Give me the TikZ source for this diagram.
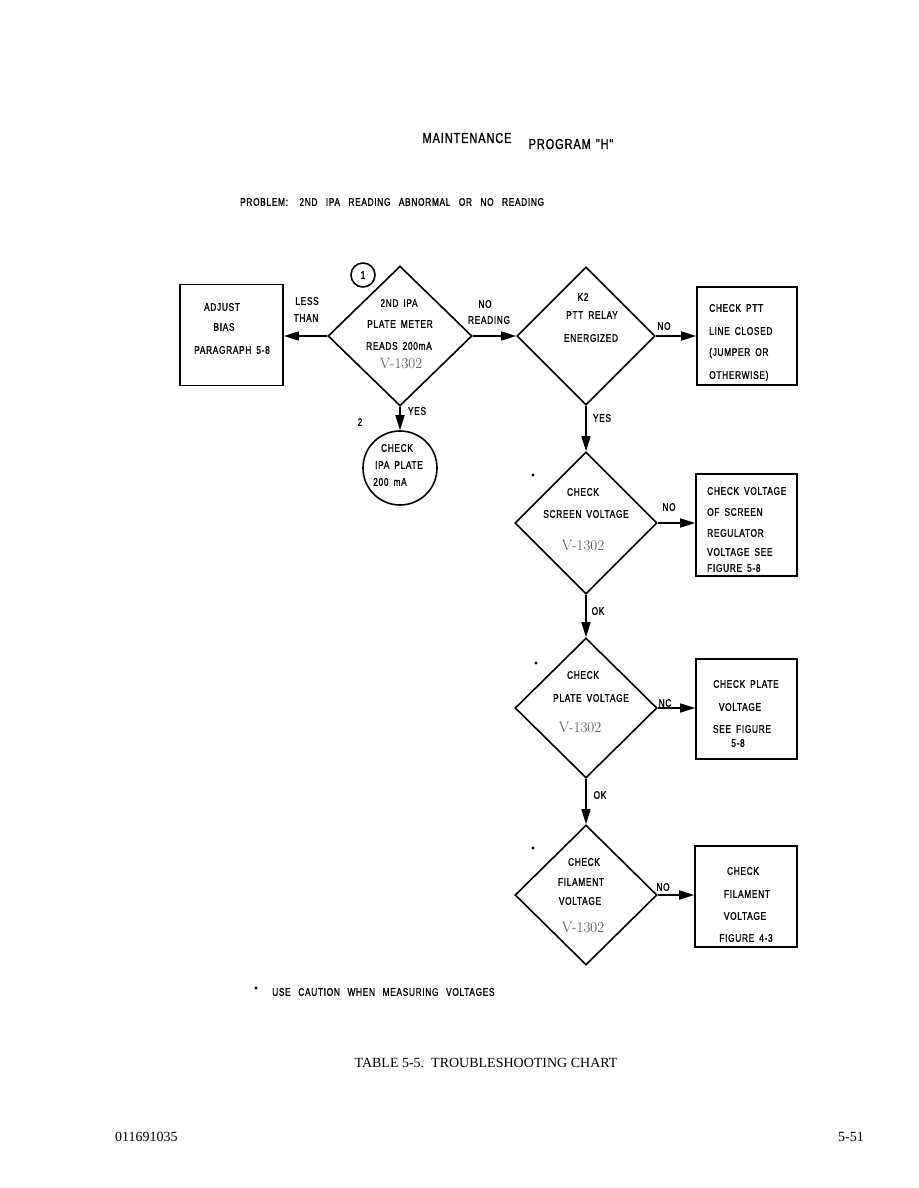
\documentclass[tikz,border=0pt]{standalone}
\usepackage{fontspec}
\usetikzlibrary{shapes.geometric,arrows.meta}
\newfontfamily\lab{Liberation Sans}[FakeStretch=0.76,LetterSpace=6,FakeBold=1.2]
\newfontfamily\capserif{Liberation Serif}
\newcommand\widewords{\spaceskip=8.4pt\relax}
\newcommand\labspace{\spaceskip=5pt\relax}
\begin{document}
\begin{tikzpicture}[x=1pt,y=-1pt,
  lw/.style={line width=1.6pt},
  dia/.style={draw,lw,shape=diamond,inner sep=0pt,minimum width=142pt,minimum height=140pt},
  box/.style={draw,lw,rectangle,inner sep=0pt},
  circ/.style={draw,lw,circle,inner sep=0pt},
  arr/.style={lw,-{Triangle[length=15pt,width=9pt]}},
  lab/.style={font=\lab\fontsize{11}{12}\selectfont,inner sep=0pt,execute at begin node=\labspace},
  labl/.style={lab,anchor=west},
  dot/.style={circle,fill,inner sep=0pt,minimum size=3.4pt},
  vt/.style={font=\fontsize{15}{15}\selectfont\addfontfeatures{LetterSpace=14},text=black!70,inner sep=0pt},
  ser/.style={font=\capserif\fontsize{14}{16}\selectfont,inner sep=0pt}
]
\useasboundingbox (0,0) rectangle (918,1188);
\fill[white] (0,0) rectangle (918,1188);

% headings
\node[lab,font=\lab\fontsize{14.5}{15}\selectfont] (t1) at (467,138) {MAINTENANCE};
\node[lab,font=\lab\fontsize{14.5}{15}\selectfont] (t2) at (571,144) {PROGRAM "H"};
\node[labl] (prob) at (240,202) {\widewords PROBLEM:\hspace{3pt} 2ND IPA READING ABNORMAL OR NO READING};

% shapes
\node[dia,minimum width=144pt] (d1) at (400,336) {};
\node[circ,minimum size=24pt] (c1) at (363,275) {};
\node[lab] (c1t) at (363,275) {1};
\node[box,minimum width=103pt,minimum height=101pt] (adj) at (231.5,335) {};
\node[circ,minimum size=74pt] (c2) at (400,468) {};
\node[dia,minimum width=138pt,minimum height=138pt] (d2) at (586,336) {};
\node[box,minimum width=100pt,minimum height=98pt] (ptt) at (747,336) {};
\node[dia,minimum height=142pt] (d3) at (586,523) {};
\node[box,minimum width=101pt,minimum height=102pt] (scr) at (746.5,525) {};
\node[dia] (d4) at (586,708) {};
\node[box,minimum width=101pt,minimum height=100pt] (pla) at (746.5,709) {};
\node[dia] (d5) at (586,895) {};
\node[box,minimum width=102pt,minimum height=101pt] (fil) at (746,896.5) {};

% connectors
\draw[arr] (d1.west) -- (d1.west -| adj.east);
\draw[arr] (d1.east) -- (d2.west);
\draw[arr] (d1.south) -- (c2.north);
\draw[arr] (d2.east) -- (d2.east -| ptt.west);
\draw[arr] (d2.south) -- (d3.north);
\draw[arr] (d3.east) -- (d3.east -| scr.west);
\draw[arr] (d3.south) -- (d4.north);
\draw[arr] (d4.east) -- (d4.east -| pla.west);
\draw[arr] (d4.south) -- (d5.north);
\draw[arr] (d5.east) -- (d5.east -| fil.west);

% connector labels
\node[lab] (lless) at (307,301) {LESS};
\node[lab] (lthan) at (306,318) {THAN};
\node[lab] (lno1) at (485,304) {NO};
\node[lab] (lread) at (489,320) {READING};
\node[lab] (lyes1) at (417,411) {YES};
\node[lab] (ltwo) at (360,422) {2};
\node[lab] (lno2) at (664,326) {NO};
\node[lab] (lyes2) at (602,418) {YES};
\node[lab] (lno3) at (669,507) {NO};
\node[lab] (lok1) at (598,611) {OK};
\node[lab] (lnc) at (665,703) {NC};
\node[lab] (lok2) at (600,795) {OK};
\node[lab] (lno4) at (663,887) {NO};

% adjust box
\node[lab] (a1) at (222,307) {ADJUST};
\node[lab] (a2) at (224,327) {BIAS};
\node[lab] (a3) at (232,350) {PARAGRAPH 5-8};

% diamond 1
\node[lab] (d1a) at (399,303) {2ND IPA};
\node[lab] (d1b) at (400,324) {PLATE METER};
\node[lab] (d1c) at (399,346) {READS 200mA};
\node[vt] (d1d) at (401,363) {V-1302};

% circle 2
\node[lab] (c2a) at (397,448) {CHECK};
\node[lab] (c2b) at (399,465) {IPA PLATE};
\node[lab] (c2c) at (390,482) {200 mA};

% diamond K2
\node[lab] (d2a) at (583,297) {K2};
\node[lab] (d2b) at (592,315) {PTT RELAY};
\node[lab] (d2c) at (591,338) {ENERGIZED};

% PTT box
\node[labl] (p1) at (709,308) {CHECK PTT};
\node[labl] (p2) at (709,331) {LINE CLOSED};
\node[labl] (p3) at (709,353) {(JUMPER OR};
\node[labl] (p4) at (709,376) {OTHERWISE)};

% screen diamond
\node[dot] (s0) at (533,475) {};
\node[lab] (s1) at (583,492) {CHECK};
\node[lab] (s2) at (586,514) {SCREEN VOLTAGE};
\node[vt] (s3) at (583,545) {V-1302};

% screen box
\node[labl] (sb1) at (707,491) {CHECK VOLTAGE};
\node[labl] (sb2) at (707,512) {OF SCREEN};
\node[labl] (sb3) at (707,533) {REGULATOR};
\node[labl] (sb4) at (707,552) {VOLTAGE SEE};
\node[labl] (sb5) at (707,568) {FIGURE 5-8};

% plate diamond
\node[dot] (q0) at (536,663) {};
\node[lab] (q1) at (583,675) {CHECK};
\node[lab] (q2) at (591,698) {PLATE VOLTAGE};
\node[vt] (q3) at (580,727) {V-1302};

% plate box
\node[lab] (pb1) at (746,684) {CHECK PLATE};
\node[lab] (pb2) at (740,707) {VOLTAGE};
\node[lab] (pb3) at (742,729) {SEE FIGURE};
\node[lab] (pb4) at (738,743) {5-8};

% filament diamond
\node[dot] (f0) at (533,848) {};
\node[lab] (f1) at (584,862) {CHECK};
\node[lab] (f2) at (581,882) {FILAMENT};
\node[lab] (f3) at (580,901) {VOLTAGE};
\node[vt] (f4) at (583,927) {V-1302};

% filament box
\node[lab] (fb1) at (743,871) {CHECK};
\node[lab] (fb2) at (747,894) {FILAMENT};
\node[lab] (fb3) at (745,916) {VOLTAGE};
\node[lab] (fb4) at (746,938) {FIGURE 4-3};

% footnote and captions
\node[dot] (fn0) at (256,988) {};
\node[labl] (fn) at (272,992) {\spaceskip=7.6pt\relax USE CAUTION WHEN MEASURING VOLTAGES};
\node[ser] (cap) at (486,1063) {TABLE 5-5.\ \ TROUBLESHOOTING CHART};
\node[ser,anchor=west] (doc) at (115,1137) {011691035};
\node[ser,anchor=east] (pg) at (864,1137) {5-51};
\end{tikzpicture}
\end{document}
